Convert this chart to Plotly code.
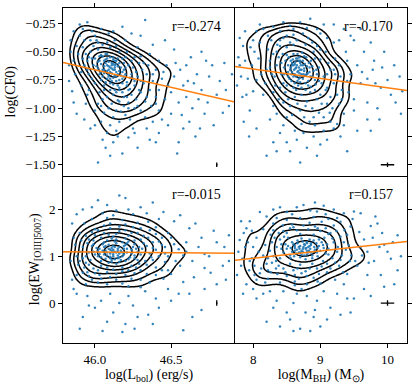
import numpy as np
import plotly.graph_objects as go
from plotly.subplots import make_subplots

# points, [x, y]
lbol_cf0 = [
    [46.10, -0.64], [46.12, -0.66], [46.08, -0.62], [46.14, -0.68], [46.11, -0.60], [46.06, -0.66], [46.15, -0.63], [46.09, -0.70], [46.13, -0.58], [46.04, -0.61],
    [46.17, -0.71], [46.07, -0.57], [46.12, -0.73], [46.02, -0.65], [46.19, -0.66], [46.10, -0.55], [46.16, -0.60], [46.05, -0.72], [46.14, -0.76], [46.08, -0.67],
    [46.11, -0.69], [46.13, -0.62], [46.09, -0.59], [46.18, -0.74], [46.03, -0.58], [46.06, -0.69], [46.15, -0.56], [46.12, -0.79], [46.20, -0.70], [46.01, -0.63],
    [46.10, -0.74], [46.07, -0.52], [46.16, -0.67], [46.13, -0.71], [46.04, -0.68], [46.11, -0.65], [46.09, -0.63], [46.14, -0.61], [46.08, -0.74], [46.21, -0.77],
    [46.00, -0.56], [46.17, -0.64], [46.05, -0.54], [46.12, -0.57], [46.15, -0.80], [46.10, -0.78], [46.19, -0.60], [46.06, -0.63], [46.03, -0.70], [46.23, -0.73],
    [46.13, -0.66], [46.09, -0.66], [46.11, -0.62], [46.14, -0.72], [46.08, -0.56], [46.16, -0.75], [46.02, -0.59], [46.18, -0.68], [46.07, -0.77], [46.12, -0.61],
    [45.97, -0.50], [45.95, -0.58], [45.99, -0.45], [46.02, -0.48], [45.93, -0.62], [46.26, -0.80], [46.28, -0.72], [46.30, -0.86], [46.24, -0.88], [46.22, -0.62],
    [46.05, -0.44], [46.10, -0.46], [46.16, -0.50], [46.20, -0.55], [46.25, -0.64], [46.32, -0.78], [46.18, -0.86], [46.12, -0.88], [46.06, -0.84], [46.00, -0.78],
    [45.96, -0.70], [45.94, -0.52], [46.01, -0.40], [46.08, -0.42], [46.14, -0.45], [46.27, -0.92], [46.34, -0.70], [46.22, -0.95], [46.15, -0.93], [46.08, -0.90],
    [46.03, -0.86], [45.98, -0.74], [45.92, -0.46], [45.97, -0.40], [46.21, -0.50], [46.29, -0.60], [46.36, -0.84], [46.33, -0.94], [46.19, -0.98], [46.11, -0.96],
    [46.05, -0.92], [45.99, -0.62], [46.04, -0.53], [46.24, -0.58], [46.31, -0.66], [46.38, -0.76], [46.26, -1.00], [46.17, -1.03], [46.09, -1.00], [46.02, -0.96],
    [45.95, -0.66], [45.93, -0.40], [46.00, -0.36], [46.13, -0.40], [46.35, -0.62], [46.40, -0.90], [46.30, -1.02], [46.20, -1.06], [46.12, -1.08], [46.06, -1.04],
    [46.27, -0.68], [46.23, -0.83], [46.19, -0.90], [46.26, -0.76], [46.16, -0.84], [45.96, -0.55], [46.04, -0.75], [46.21, -0.80], [46.29, -0.84], [46.14, -0.86],
    [45.88, -0.45], [45.86, -0.58], [45.90, -0.36], [45.87, -0.70], [45.91, -0.80], [45.95, -0.88], [46.00, -1.02], [46.04, -1.12], [46.10, -1.15], [46.16, -1.12],
    [46.23, -1.10], [46.33, -1.08], [46.42, -1.02], [46.46, -0.92], [46.48, -0.80], [46.45, -0.68], [46.42, -0.58], [46.36, -0.52], [46.28, -0.46], [46.20, -0.40],
    [46.09, -0.34], [45.98, -0.32], [45.92, -0.30], [46.44, -0.74], [46.50, -0.86], [46.38, -1.12], [46.25, -1.18], [46.14, -1.20], [46.52, -0.72], [46.47, -0.62],
    [46.40, -0.66], [46.37, -0.98], [46.44, -1.10], [45.89, -0.52], [45.94, -0.96], [46.08, -1.22], [46.30, -0.54], [46.55, -0.95], [46.50, -1.05], [46.58, -0.80],
    [45.84, -0.40], [45.83, -0.62], [45.85, -0.85], [45.88, -1.05], [45.97, -1.18], [46.05, -1.28], [46.12, -1.30], [46.22, -1.26], [46.28, -1.35], [46.02, -1.48],
    [46.60, -0.62], [46.65, -0.78], [46.68, -0.92], [46.72, -1.05], [46.62, -1.12], [46.58, -1.18], [46.75, -0.72], [46.80, -0.88], [46.85, -0.60], [46.88, -0.98],
    [46.70, -0.50], [46.52, -0.48], [46.46, -0.40], [46.30, -0.36], [46.18, -0.28], [46.33, -0.22], [45.95, -0.24], [46.55, -1.30], [46.42, -1.22], [46.78, -1.15],
    [46.56, -0.66], [46.60, -0.90], [46.64, -1.00], [46.67, -0.70], [46.70, -0.84], [46.74, -0.95], [46.77, -0.62], [46.82, -0.76], [46.86, -0.84], [46.90, -0.70],
    [46.63, -0.55], [46.69, -1.18], [46.57, -1.06], [46.53, -0.60], [46.61, -0.76], [46.73, -0.58], [46.84, -1.04], [46.66, -1.25], [46.48, -1.15], [46.54, -1.40],
    [46.00, -1.15], [46.07, -1.35], [46.15, -1.25], [46.18, -1.40], [46.26, -1.22], [46.34, -1.18], [46.40, -1.30], [45.93, -1.10], [46.10, -1.42], [46.36, -1.28],
    [45.84, -0.50], [45.86, -0.32], [45.90, -0.26], [46.04, -0.30], [46.12, -0.32], [46.24, -0.34], [46.38, -0.44], [45.83, -0.76], [45.86, -0.95], [45.91, -0.68],
    [46.02, -0.42], [45.98, -0.56], [46.06, -0.80], [46.16, -0.94], [46.24, -0.70], [46.30, -0.76], [46.34, -0.90], [46.28, -0.98], [46.22, -1.00], [46.10, -0.84],
    [46.18, -0.56], [46.26, -0.55], [46.32, -0.60], [46.38, -0.70], [46.42, -0.84], [46.40, -0.96], [46.14, -1.02], [46.04, -0.98], [45.96, -0.84], [45.92, -0.56],
    [46.10, -0.68], [46.13, -0.64], [46.07, -0.60], [46.15, -0.70], [46.09, -0.72], [46.12, -0.55], [46.18, -0.78], [46.05, -0.66], [46.20, -0.64], [46.11, -0.76],
    [46.16, -0.82], [46.22, -0.84], [46.08, -0.52], [46.03, -0.54], [46.25, -0.74], [46.19, -0.72], [46.14, -0.58], [46.06, -0.58], [46.21, -0.90], [46.13, -0.84],
]

mbh_cf0 = [
    [8.68, -0.64], [8.72, -0.66], [8.62, -0.61], [8.75, -0.70], [8.58, -0.60], [8.66, -0.68], [8.80, -0.63], [8.64, -0.56], [8.70, -0.73], [8.55, -0.66],
    [8.85, -0.72], [8.60, -0.52], [8.74, -0.58], [8.52, -0.62], [8.90, -0.67], [8.66, -0.76], [8.78, -0.78], [8.57, -0.70], [8.69, -0.55], [8.83, -0.60],
    [8.63, -0.65], [8.71, -0.62], [8.76, -0.67], [8.59, -0.57], [8.92, -0.75], [8.48, -0.58], [8.67, -0.80], [8.81, -0.69], [8.54, -0.74], [8.73, -0.51],
    [8.65, -0.62], [8.69, -0.69], [8.61, -0.66], [8.77, -0.61], [8.86, -0.81], [8.50, -0.53], [8.64, -0.72], [8.95, -0.70], [8.56, -0.64], [8.79, -0.55],
    [8.70, -0.60], [8.62, -0.70], [8.74, -0.74], [8.68, -0.58], [8.58, -0.68], [8.82, -0.76], [8.46, -0.64], [8.88, -0.63], [8.66, -0.52], [8.72, -0.82],
    [8.60, -0.62], [8.76, -0.65], [8.53, -0.55], [8.84, -0.68], [8.67, -0.67], [8.70, -0.77], [8.63, -0.59], [8.78, -0.71], [8.57, -0.76], [8.93, -0.79],
    [8.30, -0.52], [8.35, -0.62], [8.28, -0.70], [8.40, -0.45], [8.45, -0.78], [8.38, -0.55], [9.05, -0.72], [9.10, -0.82], [9.00, -0.88], [9.15, -0.66],
    [8.55, -0.42], [8.65, -0.40], [8.78, -0.44], [8.90, -0.50], [9.00, -0.57], [9.20, -0.78], [8.95, -0.92], [8.80, -0.94], [8.62, -0.90], [8.48, -0.86],
    [8.33, -0.80], [8.25, -0.58], [8.45, -0.38], [8.60, -0.35], [8.82, -0.38], [9.08, -0.50], [9.25, -0.88], [9.10, -0.96], [8.88, -1.00], [8.70, -1.02],
    [8.55, -0.98], [8.38, -0.92], [8.20, -0.66], [8.22, -0.48], [8.50, -0.46], [9.12, -0.60], [9.30, -0.72], [9.18, -1.00], [8.98, -1.04], [8.76, -1.08],
    [8.58, -1.06], [8.42, -0.70], [8.36, -0.44], [8.95, -0.45], [9.22, -0.56], [9.32, -0.84], [9.28, -0.96], [9.05, -1.08], [8.84, -1.12], [8.66, -0.96],
    [8.50, -0.80], [8.42, -0.60], [8.85, -0.86], [9.02, -0.78], [8.72, -0.88], [8.92, -0.56], [8.60, -0.82], [8.52, -0.72], [9.15, -0.90], [8.32, -0.72],
    [8.18, -0.78], [8.27, -0.40], [8.74, -0.34], [9.20, -0.66], [8.98, -0.64], [8.86, -0.58], [8.44, -0.52], [8.64, -0.84], [8.92, -0.84], [9.08, -0.84],
    [7.98, -0.62], [8.02, -0.50], [8.05, -0.75], [8.10, -0.42], [8.15, -0.88], [8.22, -0.36], [8.30, -0.98], [8.40, -0.32], [8.50, -1.08], [8.60, -0.30],
    [8.72, -1.14], [8.80, -0.29], [8.92, -1.15], [9.00, -0.34], [9.15, -1.12], [9.20, -0.42], [9.35, -1.05], [9.38, -0.50], [9.50, -0.92], [9.55, -0.62],
    [9.60, -0.78], [9.45, -0.70], [9.42, -0.86], [8.08, -0.56], [8.12, -0.70], [8.35, -1.05], [9.28, -0.40], [9.62, -0.68], [9.25, -1.14], [8.45, -1.15],
    [8.00, -0.40], [8.15, -0.30], [9.40, -0.58], [9.50, -1.02], [8.62, -1.20], [9.05, -1.20], [8.25, -1.10], [9.70, -0.74], [9.45, -0.36], [8.90, -1.25],
    [7.78, -0.55], [7.82, -0.72], [7.85, -0.45], [7.90, -0.88], [7.95, -1.02], [8.05, -1.18], [8.30, -1.30], [8.55, -1.38], [8.70, -1.48], [9.00, -1.32],
    [9.30, -1.25], [9.55, -1.20], [9.85, -1.00], [9.90, -0.82], [10.05, -0.88], [10.18, -0.72], [9.80, -0.58], [9.95, -0.50], [10.10, -0.62], [9.75, -0.42],
    [9.60, -0.30], [9.20, -0.26], [8.85, -0.21], [8.45, -0.24], [8.10, -0.26], [7.88, -0.32], [9.40, -1.38], [8.20, -1.42], [9.70, -1.10], [10.20, -1.05],
    [9.70, -0.95], [9.78, -0.66], [9.82, -0.78], [9.88, -1.10], [9.92, -0.64], [10.00, -0.75], [10.12, -0.95], [10.22, -0.85], [9.65, -0.50], [9.75, -1.20],
    [7.80, -0.62], [7.84, -0.90], [7.88, -0.58], [7.92, -0.74], [7.96, -0.46], [7.80, -0.38], [7.86, -1.12], [7.94, -1.25], [8.00, -0.85], [7.76, -0.80],
    [8.40, -1.22], [8.50, -1.30], [8.65, -1.28], [8.80, -1.35], [8.95, -1.42], [9.10, -1.28], [9.20, -1.18], [8.35, -1.38], [9.35, -1.15], [8.75, -1.22],
    [8.30, -0.28], [8.55, -0.27], [8.70, -0.24], [9.05, -0.26], [9.35, -0.30], [9.50, -0.40], [8.05, -0.32], [8.95, -0.30], [9.10, -0.38], [8.40, -0.40],
    [8.25, -0.64], [8.30, -0.86], [8.45, -0.95], [9.22, -0.70], [9.28, -0.62], [9.32, -0.92], [9.40, -0.76], [8.35, -0.50], [8.50, -0.36], [8.88, -0.42],
    [9.10, -0.70], [9.02, -0.96], [8.78, -0.98], [8.52, -0.92], [8.40, -0.82], [8.46, -0.70], [9.00, -0.48], [8.60, -0.44], [9.14, -1.04], [8.90, -1.08],
    [8.64, -0.64], [8.70, -0.66], [8.74, -0.62], [8.60, -0.72], [8.80, -0.70], [8.56, -0.58], [8.84, -0.64], [8.68, -0.74], [8.66, -0.56], [8.78, -0.84],
    [8.62, -0.78], [8.88, -0.72], [8.52, -0.68], [8.76, -0.54], [8.94, -0.66], [8.72, -0.70], [8.58, -0.62], [8.82, -0.80], [8.98, -0.76], [8.70, -0.58],
]

lbol_ew = [
    [46.13, 1.10], [46.10, 1.14], [46.16, 1.06], [46.08, 1.02], [46.19, 1.16], [46.05, 1.12], [46.12, 1.22], [46.15, 0.96], [46.21, 1.08], [46.03, 1.05],
    [46.09, 1.25], [46.18, 1.00], [46.11, 0.92], [46.24, 1.14], [46.01, 1.18], [46.14, 1.28], [46.07, 0.95], [46.20, 1.24], [46.16, 0.88], [45.99, 1.10],
    [46.26, 1.02], [46.12, 1.04], [46.06, 1.20], [46.17, 1.12], [46.10, 0.99], [46.22, 0.94], [46.04, 0.90], [46.13, 1.32], [46.28, 1.10], [45.98, 1.22],
    [46.15, 1.16], [46.08, 1.08], [46.11, 1.18], [46.19, 1.04], [46.02, 1.00], [46.25, 1.20], [46.14, 0.84], [46.06, 1.30], [46.18, 1.30], [46.09, 0.86],
    [46.12, 1.14], [46.16, 1.20], [46.07, 1.12], [46.23, 0.98], [46.00, 1.04], [46.27, 1.16], [46.13, 0.94], [46.05, 1.26], [46.20, 0.90], [46.10, 1.06],
    [46.14, 1.08], [46.11, 1.12], [46.17, 0.92], [46.03, 1.16], [46.21, 1.28], [46.08, 1.34], [46.30, 1.04], [45.96, 1.08], [46.15, 1.02], [46.12, 1.00],
    [45.94, 1.00], [45.92, 1.20], [45.96, 1.36], [46.00, 1.45], [46.06, 1.50], [46.14, 1.48], [46.22, 1.44], [46.30, 1.36], [46.34, 1.22], [46.36, 1.06],
    [46.33, 0.90], [46.27, 0.76], [46.18, 0.68], [46.08, 0.66], [45.99, 0.74], [45.94, 0.86], [45.95, 1.28], [46.02, 1.56], [46.10, 1.60], [46.20, 1.56],
    [46.28, 1.50], [46.38, 1.30], [46.40, 1.14], [46.38, 0.92], [46.30, 0.70], [46.20, 0.60], [46.10, 0.56], [46.00, 0.64], [45.93, 0.76], [46.04, 0.80],
    [46.24, 0.80], [46.32, 1.44], [46.12, 1.42], [46.26, 1.34], [46.04, 1.40], [45.97, 0.92], [46.42, 1.00], [46.44, 1.24], [46.36, 1.56], [45.98, 1.52],
    [46.16, 1.64], [46.06, 1.66], [45.90, 1.10], [46.22, 0.70], [46.14, 0.62], [46.02, 0.70], [46.34, 0.82], [46.46, 0.88], [46.40, 0.76], [46.25, 1.62],
    [46.18, 0.76], [46.08, 0.76], [46.28, 0.92], [46.31, 1.16], [46.26, 1.26], [45.99, 1.34], [46.20, 1.38], [46.09, 1.46], [45.92, 0.96], [46.35, 1.40],
    [46.44, 1.40], [46.12, 0.72], [46.24, 1.50], [46.03, 0.60], [46.16, 1.54], [46.37, 0.98], [46.29, 0.84], [45.95, 0.66], [46.42, 1.32], [46.11, 1.38],
    [45.88, 1.00], [45.87, 1.25], [45.90, 1.50], [45.93, 1.70], [45.98, 1.80], [46.08, 1.82], [46.18, 1.78], [46.28, 1.72], [46.40, 1.62], [46.50, 1.40],
    [46.55, 1.15], [46.53, 0.90], [46.48, 0.70], [46.40, 0.60], [46.30, 0.50], [46.18, 0.42], [46.08, 0.40], [45.98, 0.50], [45.92, 0.65], [45.89, 0.82],
    [46.48, 1.50], [46.52, 1.26], [46.46, 1.06], [46.56, 0.80], [46.45, 0.52], [46.22, 0.36], [46.02, 0.44], [45.86, 1.40], [46.35, 1.74], [46.12, 1.88],
    [46.58, 1.02], [46.50, 0.62], [46.36, 0.44], [45.94, 0.40], [46.05, 1.92], [46.42, 1.80], [46.60, 1.30], [46.30, 0.34], [45.88, 0.60], [46.25, 1.90],
    [45.84, 0.90], [45.86, 0.30], [45.85, 1.70], [45.92, 2.00], [46.08, 2.10], [46.20, 2.25], [46.30, 2.05], [46.45, 1.95], [46.62, 1.60], [46.70, 1.40],
    [46.78, 1.55], [46.85, 1.20], [46.88, 0.90], [46.72, 0.75], [46.65, 0.55], [46.80, 0.40], [46.62, 0.20], [46.40, 0.10], [46.25, -0.05], [46.12, -0.20],
    [46.00, -0.10], [45.90, -0.55], [46.05, -0.60], [46.20, -0.45], [46.35, -0.25], [46.58, -0.58], [46.70, -0.15], [46.75, 1.00], [45.95, 0.15], [46.50, 0.05],
    [45.88, 0.20], [45.96, -0.05], [46.04, 0.05], [46.10, 0.20], [46.16, 0.00], [46.22, 0.15], [46.28, -0.30], [46.33, 0.25], [46.42, -0.10], [46.48, 0.30],
    [45.92, -0.30], [46.08, -0.40], [46.18, -0.62], [46.26, -0.55], [46.38, -0.45], [46.55, 0.20], [46.64, -0.30], [46.72, 0.30], [46.86, 0.50], [45.85, 0.50],
    [46.60, 1.10], [46.64, 0.90], [46.68, 1.20], [46.72, 1.05], [46.76, 0.65], [46.80, 1.30], [46.84, 0.80], [46.88, 1.45], [46.66, 1.70], [46.58, 0.45],
    [45.88, 1.90], [45.98, 2.05], [46.02, 2.20], [46.14, 1.98], [46.22, 2.00], [46.34, 1.92], [46.38, 2.15], [46.52, 1.75], [46.56, 1.88], [46.16, 2.30],
    [45.96, 0.82], [45.94, 1.44], [46.00, 1.58], [46.10, 1.70], [46.20, 1.68], [46.30, 1.60], [46.40, 1.48], [46.46, 1.20], [46.44, 0.70], [46.34, 0.62],
    [46.24, 0.52], [46.14, 0.50], [46.04, 0.52], [45.96, 0.58], [46.32, 1.28], [46.38, 1.18], [45.91, 1.34], [46.48, 1.00], [46.26, 0.64], [45.90, 0.90],
    [46.12, 1.08], [46.15, 1.12], [46.09, 1.16], [46.18, 1.08], [46.06, 1.04], [46.21, 1.16], [46.13, 1.20], [46.10, 0.96], [46.24, 1.06], [46.02, 1.12],
    [46.16, 0.98], [46.07, 1.22], [46.19, 1.22], [46.11, 0.88], [46.26, 0.96], [46.04, 0.98], [46.22, 1.32], [46.14, 1.36], [46.29, 1.20], [45.99, 1.26],
]

mbh_ew = [
    [8.78, 1.16], [8.82, 1.20], [8.72, 1.12], [8.86, 1.24], [8.68, 1.08], [8.76, 1.26], [8.92, 1.14], [8.62, 1.18], [8.80, 1.04], [8.98, 1.22],
    [8.58, 1.10], [8.74, 1.32], [8.88, 1.02], [8.66, 1.28], [9.02, 1.30], [8.55, 1.02], [8.84, 1.36], [8.70, 0.98], [8.95, 1.08], [8.60, 1.26],
    [8.80, 1.12], [8.75, 1.20], [8.85, 1.16], [8.65, 1.14], [9.05, 1.18], [8.50, 1.16], [8.78, 0.94], [8.90, 1.34], [8.64, 1.06], [8.72, 1.38],
    [9.10, 1.26], [8.45, 1.08], [8.82, 1.08], [8.70, 1.22], [8.96, 1.00], [8.58, 1.30], [8.86, 1.28], [8.76, 1.02], [9.00, 1.12], [8.52, 1.22],
    [8.79, 1.18], [8.83, 1.12], [8.69, 1.16], [8.91, 1.20], [8.61, 1.00], [8.74, 1.10], [9.08, 1.06], [8.48, 1.26], [8.88, 0.96], [8.66, 1.34],
    [8.80, 1.28], [8.94, 1.28], [8.56, 0.96], [8.72, 1.04], [8.86, 1.08], [9.12, 1.16], [8.42, 1.16], [8.98, 1.36], [8.62, 1.22], [8.77, 1.24],
    [8.30, 1.00], [8.35, 1.20], [8.28, 0.86], [8.40, 1.36], [8.38, 0.80], [9.20, 1.30], [9.25, 1.10], [9.30, 1.42], [9.18, 0.96], [9.15, 1.50],
    [8.50, 1.50], [8.65, 1.56], [8.82, 1.58], [9.00, 1.54], [8.45, 0.74], [8.60, 0.70], [8.78, 0.68], [8.95, 0.74], [9.10, 0.84], [8.25, 1.12],
    [8.22, 0.96], [8.32, 1.40], [8.45, 1.54], [8.60, 1.62], [8.75, 1.66], [8.92, 1.64], [9.08, 1.60], [9.24, 1.54], [9.35, 1.30], [9.38, 1.14],
    [9.30, 0.92], [9.15, 0.74], [8.98, 0.62], [8.80, 0.58], [8.62, 0.60], [8.48, 0.66], [8.34, 0.74], [8.20, 0.84], [8.18, 1.24], [8.26, 1.46],
    [8.40, 0.96], [8.55, 0.84], [8.70, 0.82], [8.88, 0.84], [9.04, 0.90], [9.12, 1.04], [9.06, 1.40], [8.90, 1.46], [8.70, 1.48], [8.52, 1.40],
    [8.42, 1.26], [9.42, 1.24], [9.28, 0.80], [8.36, 0.62], [8.68, 0.52], [8.90, 0.54], [9.40, 1.46], [8.15, 1.02], [8.30, 1.56], [9.20, 1.66],
    [8.58, 1.68], [8.84, 1.72], [9.02, 1.74], [8.44, 1.66], [9.46, 1.02], [8.12, 0.74], [8.26, 0.66], [9.34, 0.66], [8.96, 0.46], [8.62, 0.46],
    [7.98, 0.96], [8.00, 1.20], [8.02, 0.80], [8.05, 1.40], [8.10, 0.64], [8.15, 1.58], [8.22, 0.52], [8.30, 1.70], [8.40, 0.44], [8.50, 1.78],
    [8.62, 0.38], [8.70, 1.82], [8.80, 0.40], [8.90, 1.84], [9.00, 0.42], [9.12, 1.80], [9.22, 0.50], [9.30, 1.74], [9.40, 0.62], [9.45, 1.64],
    [9.55, 0.80], [9.58, 1.52], [9.62, 1.02], [9.65, 1.36], [9.60, 1.20], [9.52, 0.90], [8.08, 1.10], [8.18, 0.44], [8.35, 1.82], [9.08, 1.90],
    [9.48, 1.80], [9.70, 1.10], [9.72, 0.86], [8.72, 0.30], [8.58, 1.90], [9.35, 0.40], [8.05, 0.50], [9.78, 1.40], [8.95, 1.96], [7.92, 1.30],
    [7.78, 1.10], [7.82, 0.80], [7.86, 1.50], [7.90, 0.40], [7.95, 1.75], [8.10, 1.95], [8.40, 2.05], [8.75, 2.10], [9.20, 2.00], [9.60, 1.92],
    [9.85, 1.70], [9.95, 1.25], [10.05, 0.95], [10.15, 1.45], [9.90, 0.60], [9.65, 0.30], [9.40, 0.10], [9.15, -0.10], [8.90, -0.30], [8.70, -0.55],
    [8.50, -0.20], [8.35, 0.05], [8.20, -0.40], [8.05, 0.10], [8.60, 0.00], [9.00, -0.50], [9.30, -0.25], [8.80, 0.15], [10.10, 0.40], [7.85, 0.20],
    [8.00, 0.30], [8.15, 0.20], [8.30, -0.10], [8.45, 0.25], [8.55, -0.35], [8.65, 0.20], [8.78, -0.20], [8.85, -0.60], [8.95, 0.05], [9.05, 0.25],
    [9.10, -0.35], [9.25, 0.20], [9.50, 0.10], [9.75, 0.15], [9.95, 0.35], [8.40, -0.50], [8.92, -0.15], [8.60, -0.60], [8.25, 0.25], [9.45, -0.20],
    [7.80, 1.35], [7.84, 0.95], [7.88, 1.20], [7.94, 0.70], [7.98, 1.55], [7.76, 0.60], [7.90, 1.60], [8.02, 0.60], [7.82, 1.75], [7.95, 0.90],
    [9.80, 0.90], [9.88, 1.20], [9.92, 1.50], [10.00, 1.10], [10.08, 1.30], [10.20, 1.00], [9.82, 1.85], [9.70, 0.60], [10.15, 0.70], [9.75, 1.65],
    [8.20, 1.85], [8.50, 1.95], [8.65, 2.05], [8.85, 1.98], [9.05, 2.08], [9.35, 1.92], [9.50, 1.96], [8.30, 2.00], [9.25, 1.82], [8.92, 2.15],
    [8.28, 1.30], [8.34, 0.90], [8.46, 1.42], [8.50, 0.58], [8.72, 0.64], [9.10, 0.66], [9.26, 1.20], [9.32, 1.02], [9.36, 1.56], [9.12, 1.48],
    [8.22, 0.70], [8.55, 1.60], [8.96, 1.60], [9.18, 1.38], [9.44, 0.90], [8.38, 1.50], [8.66, 0.74], [8.84, 0.74], [9.02, 0.78], [9.22, 0.86],
    [8.74, 1.16], [8.84, 1.22], [8.68, 1.20], [8.90, 1.10], [8.62, 1.12], [8.80, 1.30], [8.96, 1.18], [8.70, 1.08], [9.04, 1.24], [8.56, 1.18],
]

r_labels = ["r=-0.274", "r=-0.170", "r=-0.015", "r=0.157"]

# orange fit lines: value at the pivot, slope
fit_pivot = [46.0, 9.0, 46.0, 9.0]
fit_level = [-0.661, -0.737, 1.092, 1.116]
fit_slope = [-0.309, -0.083, -0.030, 0.158]

# typical error bars in the lower right corner
err_x = [46.8, 10.0, 46.8, 10.0]
err_y = [-1.5, -1.5, 0.0, 0.0]
err_dx = [0.004, 0.1, 0.004, 0.1]
err_dy = [0.02, 0.02, 0.06, 0.06]

lbol_range = [45.79, 46.92]
mbh_range = [7.73, 10.29]
cf0_range = [-1.595, -0.114]
ew_range = [-0.855, 2.73]

# contour levels as enclosed fractions (start, end, step); the M_BH-EW panel shows fewer rings
contour_levels = [(0.06, 0.70, 0.09), (0.06, 0.70, 0.09), (0.06, 0.70, 0.09), (0.08, 0.70, 0.12)]


def kde_mass(x, y, xr, yr, bw=0.28, n=110):
    # gaussian kde, returned as enclosed-mass fraction so contour levels are iso-proportions
    gx = np.linspace(xr[0], xr[1], n)
    gy = np.linspace(yr[0], yr[1], n)
    X, Y = np.meshgrid(gx, gy)
    inv = np.linalg.inv(np.cov(x, y) * bw ** 2)
    dx = X[..., None] - x
    dy = Y[..., None] - y
    q = inv[0, 0] * dx * dx + 2 * inv[0, 1] * dx * dy + inv[1, 1] * dy * dy
    d = np.exp(-0.5 * q).sum(-1).ravel()
    order = np.argsort(-d)
    frac = np.empty_like(d)
    frac[order] = np.cumsum(d[order]) / d.sum()
    return gx, gy, frac.reshape(X.shape)


panels = [
    (lbol_cf0, lbol_range, cf0_range, 1, 1),
    (mbh_cf0, mbh_range, cf0_range, 1, 2),
    (lbol_ew, lbol_range, ew_range, 2, 1),
    (mbh_ew, mbh_range, ew_range, 2, 2),
]

fig = make_subplots(rows=2, cols=2, horizontal_spacing=0, vertical_spacing=0)

for i, (pts, xr, yr, row, col) in enumerate(panels):
    p = np.array(pts)
    x, y = p[:, 0], p[:, 1]
    fig.add_trace(go.Scatter(x=x, y=y, mode="markers",
                             marker=dict(color="#1f77b4", size=2.5, opacity=0.9, line=dict(width=0)),
                             showlegend=False), row=row, col=col)
    gx, gy, z = kde_mass(x, y, xr, yr)
    c0, c1, cs = contour_levels[i]
    fig.add_trace(go.Contour(x=gx, y=gy, z=z, showscale=False,
                             contours=dict(coloring="lines", start=c0, end=c1, size=cs),
                             colorscale=[[0, "black"], [1, "black"]],
                             line=dict(width=1.5, smoothing=1), hoverinfo="skip"),
                  row=row, col=col)
    lx = np.array(xr)
    ly = fit_level[i] + fit_slope[i] * (lx - fit_pivot[i])
    fig.add_trace(go.Scatter(x=lx, y=ly, mode="lines", line=dict(color="#ff7f0e", width=1.5),
                             showlegend=False), row=row, col=col)
    fig.add_trace(go.Scatter(x=[err_x[i]], y=[err_y[i]], mode="markers",
                             marker=dict(color="black", size=1),
                             error_x=dict(type="data", array=[err_dx[i]], color="black", thickness=1.3, width=0),
                             error_y=dict(type="data", array=[err_dy[i]], color="black", thickness=1.3, width=0),
                             showlegend=False), row=row, col=col)
    sfx = "" if i == 0 else str(i + 1)
    fig.add_annotation(text=r_labels[i], xref="x" + sfx + " domain", yref="y" + sfx + " domain",
                       x=1, y=1, xanchor="right", yanchor="top", xshift=-12, yshift=-9,
                       showarrow=False, font=dict(size=14))

axis_style = dict(showgrid=False, zeroline=False, showline=True, mirror=True, linecolor="black",
                  linewidth=1, ticks="outside", ticklen=4, tickcolor="black", tickwidth=1,
                  tickfont=dict(size=13), automargin=False)

fig.update_xaxes(axis_style)
fig.update_yaxes(axis_style)

# top row: ticks on the top edge only; inner borders are drawn once
fig.update_xaxes(range=lbol_range, tickvals=[46.0, 46.5], tickformat=".1f", row=1, col=1,
                 side="top", showticklabels=False)
fig.update_xaxes(range=mbh_range, tickvals=[8, 9, 10], row=1, col=2, side="top", showticklabels=False)
fig.update_xaxes(range=lbol_range, tickvals=[46.0, 46.5], tickformat=".1f", row=2, col=1, mirror=False,
                 title=dict(text="log(L<sub>bol</sub>) (erg/s)", font=dict(size=14), standoff=0))
fig.update_xaxes(range=mbh_range, tickvals=[8, 9, 10], row=2, col=2, mirror=False,
                 title=dict(text="log(M<sub>BH</sub>) (M<sub>⊙</sub>)", font=dict(size=14), standoff=0))

cf_ticks = [-0.25, -0.5, -0.75, -1.0, -1.25, -1.5]
fig.update_yaxes(range=cf0_range, tickvals=cf_ticks, tickformat=".2f", row=1, col=1, mirror=False,
                 title=dict(text="log(CF0)", font=dict(size=14), standoff=6))
fig.update_yaxes(range=cf0_range, tickvals=cf_ticks, row=1, col=2, side="right", showticklabels=False)
fig.update_yaxes(range=ew_range, tickvals=[0, 1, 2], row=2, col=1, mirror=False,
                 title=dict(text="log(EW<sub>[OIII]5007</sub>)", font=dict(size=14), standoff=6))
fig.update_yaxes(range=ew_range, tickvals=[0, 1, 2], row=2, col=2, side="right", showticklabels=False)

fig.update_layout(
    width=416, height=385,
    margin=dict(l=63, r=9, t=8, b=42),
    plot_bgcolor="white", paper_bgcolor="white",
    font=dict(family="Liberation Serif", color="black"),
    showlegend=False,
)

# the page's default body margin would push the figure off the window
fig.write_html("out.html", config={"displayModeBar": False},
               post_script="document.body.style.margin='0';")
